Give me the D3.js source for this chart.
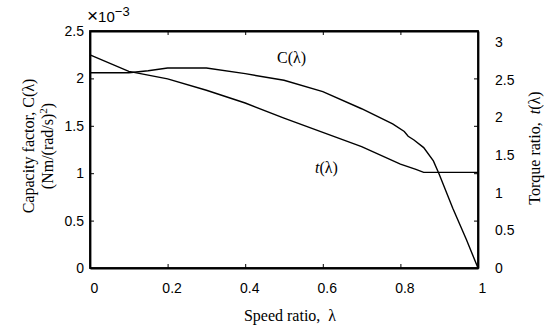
<!DOCTYPE html>
<html>
<head>
<meta charset="utf-8">
<script src="https://cdn.jsdelivr.net/npm/d3@7"></script>
<style>
    body { margin: 0; background: #fff; }
    .num { font-family: "Liberation Sans", Arial, sans-serif; font-size: 14px; }
    .lab { font-family: "Liberation Serif", "Times New Roman", serif; font-size: 16px; white-space: pre; }
</style>
</head>
<body>
<div id="chart"></div>
<script>
// speed ratio samples
const lambdaC = [0, 0.05, 0.1, 0.15, 0.2, 0.25, 0.3, 0.4, 0.5, 0.6, 0.7, 0.78, 0.81, 0.82, 0.835, 0.86, 0.885, 0.9, 0.935, 0.97, 1];
// capacity factor C (x1e-3)
const capacity = [2.06, 2.06, 2.06, 2.08, 2.11, 2.11, 2.11, 2.05, 1.98, 1.86, 1.68, 1.52, 1.44, 1.39, 1.35, 1.27, 1.13, 0.99, 0.63, 0.30, 0];

const lambdaT = [0, 0.1, 0.2, 0.3, 0.4, 0.5, 0.6, 0.7, 0.8, 0.84, 0.86, 0.9, 1];
// torque ratio t
const torque = [2.83, 2.61, 2.51, 2.36, 2.19, 1.99, 1.80, 1.61, 1.38, 1.31, 1.27, 1.27, 1.27];

const xTicks = [0, 0.2, 0.4, 0.6, 0.8, 1];
const yTicks = [0, 0.5, 1, 1.5, 2, 2.5];
const y2Ticks = [0, 0.5, 1, 1.5, 2, 2.5, 3];

draw();

function draw() {
    const width = 547;
    const height = 329;
    const margin = {top: 31, right: 69, bottom: 61, left: 90};

    const svg = d3.select('#chart')
        .append('svg')
            .attr('width', width)
            .attr('height', height);

    const x = d3.scaleLinear()
        .domain([0, 1])
        .range([margin.left, width - margin.right]);
    const y = d3.scaleLinear()
        .domain([0, 2.5])
        .range([height - margin.bottom, margin.top]);
    const y2 = d3.scaleLinear()
        .domain([0, 3.146])
        .range([height - margin.bottom, margin.top]);

    const fmt = d => d3.format('~g')(d);

    // curves
    const lineC = d3.line()
        .x((d, i) => x(lambdaC[i]))
        .y(d => y(d));
    const lineT = d3.line()
        .x((d, i) => x(lambdaT[i]))
        .y(d => y2(d));

    svg.append('path')
        .datum(capacity)
            .attr('fill', 'none')
            .attr('stroke', '#000')
            .attr('stroke-width', 1.4)
            .attr('d', lineC);
    svg.append('path')
        .datum(torque)
            .attr('fill', 'none')
            .attr('stroke', '#000')
            .attr('stroke-width', 1.4)
            .attr('d', lineT);

    // box
    svg.append('rect')
        .attr('x', x(0))
        .attr('y', y(2.5))
        .attr('width', x(1) - x(0))
        .attr('height', y(0) - y(2.5))
        .attr('fill', 'none')
        .attr('stroke', '#000')
        .attr('stroke-width', 1.8);

    //
    // AXES (matlab style, ticks inward)
    //
    const tickStyle = g => g
        .call(g => g.select('.domain').attr('stroke-width', 1.8))
        .call(g => g.selectAll('.tick line').attr('stroke-width', 1))
        .call(g => g.selectAll('.tick text')
            .attr('class', 'num')
            .attr('fill', '#000'))
        .attr('font-family', null)
        .attr('font-size', null);

    svg.append('g')
        .attr('transform', `translate(0,${height - margin.bottom})`)
        .call(d3.axisBottom(x).tickValues(xTicks).tickFormat(fmt)
            .tickSizeInner(-4).tickSizeOuter(0).tickPadding(15))
        .call(tickStyle)
        .call(g => g.selectAll('.tick text').attr('dx', 4));

    svg.append('g')
        .attr('transform', `translate(0,${margin.top})`)
        .call(d3.axisTop(x).tickValues(xTicks).tickFormat('')
            .tickSizeInner(-4).tickSizeOuter(0))
        .call(tickStyle);

    svg.append('g')
        .attr('transform', `translate(${margin.left},0)`)
        .call(d3.axisLeft(y).tickValues(yTicks).tickFormat(fmt)
            .tickSizeInner(-4).tickSizeOuter(0).tickPadding(6))
        .call(tickStyle);

    // left ticks mirrored on right edge
    svg.append('g')
        .attr('transform', `translate(${width - margin.right},0)`)
        .call(d3.axisRight(y).tickValues(yTicks).tickFormat('')
            .tickSizeInner(-4).tickSizeOuter(0))
        .call(tickStyle);

    // torque axis labels on right
    svg.append('g')
        .attr('transform', `translate(${width - margin.right},0)`)
        .call(d3.axisRight(y2).tickValues(y2Ticks).tickFormat(fmt)
            .tickSize(0).tickPadding(17))
        .call(tickStyle)
        .call(g => g.select('.domain').remove());

    // exponent
    const ex = svg.append('text')
        .attr('class', 'num')
        .attr('x', 87)
        .attr('y', 22);
    ex.append('tspan').attr('font-size', '19px').text('×');
    ex.append('tspan').attr('font-size', '15px').text('10');
    ex.append('tspan')
        .attr('font-size', '13px')
        .attr('dy', -6)
        .text('−3');

    // axis titles
    svg.append('text')
        .attr('class', 'lab')
        .attr('text-anchor', 'middle')
        .attr('x', 290)
        .attr('y', 321)
        .text('Speed ratio,  λ');

    const yl = svg.append('text')
        .attr('class', 'lab')
        .attr('text-anchor', 'middle')
        .attr('transform', 'translate(34,146) rotate(-90)');
    yl.append('tspan').attr('x', 0).attr('y', 0).text('Capacity factor, C(λ)');
    const l2 = yl.append('tspan').attr('x', 0).attr('y', 19);
    l2.append('tspan').text('(Nm/(rad/s)');
    l2.append('tspan').attr('font-size', '11px').attr('dy', -6).text('2');
    l2.append('tspan').attr('dy', 6).text(')');

    const yr = svg.append('text')
        .attr('class', 'lab')
        .attr('text-anchor', 'middle')
        .attr('transform', 'translate(540,148) rotate(-90)');
    yr.append('tspan').text('Torque ratio,  ');
    yr.append('tspan').attr('font-style', 'italic').text('t');
    yr.append('tspan').text('(λ)');

    // curve labels
    svg.append('text')
        .attr('class', 'lab')
        .attr('x', 277)
        .attr('y', 63)
        .text('C(λ)');
    const tl = svg.append('text')
        .attr('class', 'lab')
        .attr('x', 315)
        .attr('y', 173);
    tl.append('tspan').attr('font-style', 'italic').text('t');
    tl.append('tspan').text('(λ)');
}
</script>
</body>
</html>
